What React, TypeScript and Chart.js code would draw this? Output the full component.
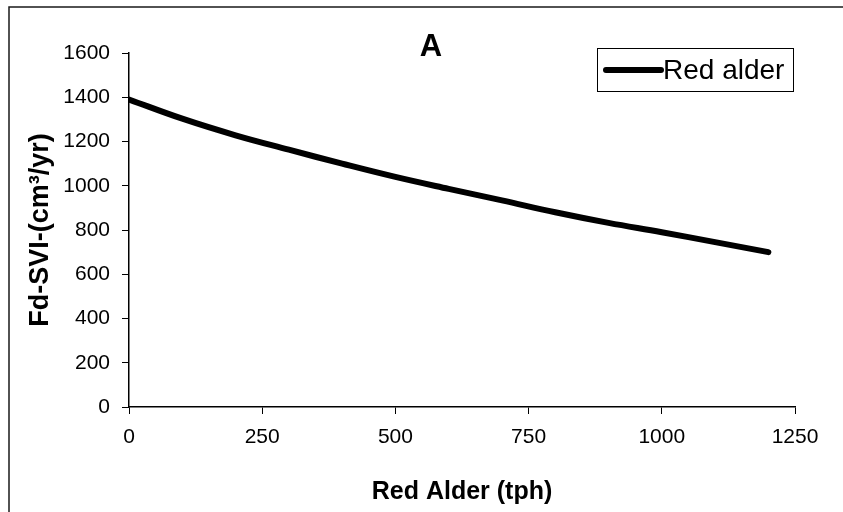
import React, { useEffect, useRef } from "react";
import { Chart, registerables } from "chart.js";

Chart.register(...registerables);

const redAlderTph = [0, 100, 200, 300, 400, 500, 600, 700, 800, 900, 1000, 1100, 1200];
const fdSviValues = [1390, 1303, 1228, 1163, 1100, 1040, 986, 934, 880, 832, 790, 745, 700];
const seriesLabel = "Red alder";
const panelTitle = "A";
const xAxisTitle = "Red Alder (tph)";
const yAxisTitle = "Fd-SVI-(cm³/yr)";

const FONT = "'Liberation Sans', Arial, Helvetica, sans-serif";

const decorPlugin = {
  id: "decor",
  beforeDraw(chart: any) {
    const { ctx } = chart;
    ctx.save();
    ctx.fillStyle = "#ffffff";
    ctx.fillRect(0, 0, chart.width, chart.height);
    ctx.strokeStyle = "#1a1a1a";
    ctx.lineWidth = 1.5;
    ctx.beginPath();
    ctx.moveTo(9, chart.height);
    ctx.lineTo(9, 7);
    ctx.lineTo(chart.width, 7);
    ctx.stroke();
    ctx.restore();
  },
  afterDraw(chart: any) {
    const { ctx, chartArea } = chart;
    ctx.save();
    // panel title
    ctx.fillStyle = "#000";
    ctx.font = `bold 31px ${FONT}`;
    ctx.textAlign = "center";
    ctx.textBaseline = "middle";
    ctx.fillText(panelTitle, chartArea.left + 302, chartArea.top - 6);

    // legend
    const ds = chart.data.datasets[0];
    const bx = chartArea.right - 198;
    const by = chartArea.top - 5;
    const bw = 196;
    const bh = 43;
    ctx.fillStyle = "#fff";
    ctx.fillRect(bx, by, bw, bh);
    ctx.strokeStyle = "#000";
    ctx.lineWidth = 1;
    ctx.strokeRect(bx + 0.5, by + 0.5, bw, bh);
    const cy = by + bh / 2 + 0.5;
    ctx.strokeStyle = "#000";
    ctx.lineWidth = 6;
    ctx.lineCap = "round";
    ctx.beginPath();
    ctx.moveTo(bx + 9, cy);
    ctx.lineTo(bx + 64, cy);
    ctx.stroke();
    ctx.fillStyle = "#000";
    ctx.font = `28px ${FONT}`;
    ctx.textAlign = "left";
    ctx.textBaseline = "middle";
    ctx.fillText(ds.label, bx + 66, cy + 1);
    ctx.restore();
  },
};

export default function App() {
  const ref = useRef<HTMLCanvasElement | null>(null);

  useEffect(() => {
    if (!ref.current) return;
    const points = redAlderTph.map((x, i) => ({ x, y: fdSviValues[i] }));
    const plain = (v: any) => String(v);
    const chart = new Chart(ref.current, {
      type: "line",
      data: {
        datasets: [
          {
            label: seriesLabel,
            data: points,
            borderColor: "#000",
            backgroundColor: "#000",
            borderWidth: 6,
            pointRadius: 0,
            tension: 0.4,
            fill: false,
            borderCapStyle: "round",
          },
        ],
      },
      options: {
        animation: false,
        responsive: false,
        devicePixelRatio: 1,
        layout: { padding: { top: 53, right: 48, left: 0, bottom: 0 } },
        plugins: {
          legend: { display: false },
          title: { display: false },
          tooltip: { enabled: false },
        },
        scales: {
          x: {
            type: "linear",
            min: 0,
            max: 1250,
            ticks: {
              stepSize: 250,
              color: "#000",
              font: { size: 21, family: FONT },
              padding: 11,
              maxRotation: 0,
              callback: plain,
            },
            grid: {
              drawOnChartArea: false,
              drawTicks: true,
              tickLength: 7,
              color: "#000",
              lineWidth: 1,
            },
            border: { display: true, color: "#000", width: 1.5 },
            title: {
              display: true,
              text: xAxisTitle,
              color: "#000",
              font: { size: 25, weight: "bold", family: FONT },
              padding: { top: 0, bottom: 5 },
            },
            afterFit: (s: any) => {
              s.height = 105;
            },
          },
          y: {
            type: "linear",
            min: 0,
            max: 1600,
            ticks: {
              stepSize: 200,
              color: "#000",
              font: { size: 21, family: FONT },
              padding: 12,
              callback: plain,
            },
            grid: {
              drawOnChartArea: false,
              drawTicks: true,
              tickLength: 7,
              color: "#000",
              lineWidth: 1,
            },
            border: { display: true, color: "#000", width: 1.5 },
            title: {
              display: true,
              text: yAxisTitle,
              color: "#000",
              font: { size: 27, weight: "bold", family: FONT },
              padding: { top: 24, bottom: 0 },
            },
            afterFit: (s: any) => {
              s.width = 129;
            },
          },
        },
      },
      plugins: [decorPlugin],
    } as any);
    return () => chart.destroy();
  }, []);

  return (
    <div style={{ position: "absolute", left: 0, top: 0, width: 843, height: 512, background: "#fff" }}>
      <canvas ref={ref} width={843} height={512} style={{ display: "block" }} />
    </div>
  );
}
